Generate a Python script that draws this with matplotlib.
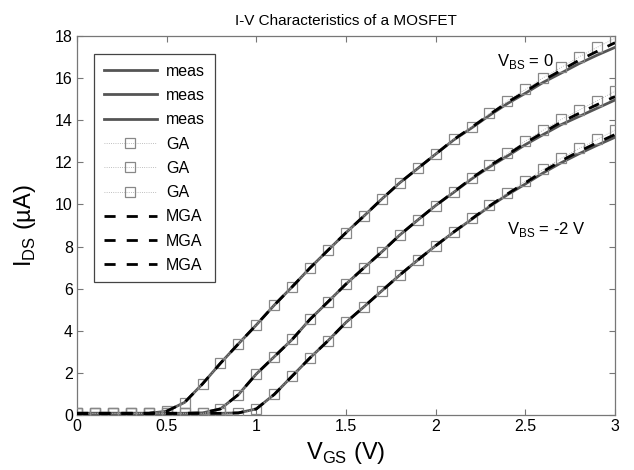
import matplotlib
matplotlib.use("Agg")
from matplotlib import pyplot as plt

plt.rcParams['font.family'] = ['Liberation Sans', 'DejaVu Sans']
plt.rcParams['mathtext.fontset'] = 'custom'
plt.rcParams['mathtext.rm'] = 'Liberation Sans'

"""
Data read from the picture
"""
vgs = [0.0, 0.1, 0.2, 0.3, 0.4, 0.5, 0.6, 0.7, 0.8, 0.9,
       1.0, 1.1, 1.2, 1.3, 1.4, 1.5, 1.6, 1.7, 1.8, 1.9,
       2.0, 2.1, 2.2, 2.3, 2.4, 2.5, 2.6, 2.7, 2.8, 2.9, 3.0]

# VBS = 0
meas_0 = [0.08, 0.08, 0.08, 0.08, 0.08, 0.18, 0.60, 1.48, 2.46, 3.38,
          4.28, 5.22, 6.09, 6.99, 7.83, 8.66, 9.45, 10.26, 11.03, 11.71,
          12.39, 13.06, 13.63, 14.23, 14.79, 15.28, 15.80, 16.24, 16.69, 17.09, 17.46]
ga_0 = [0.08, 0.08, 0.08, 0.08, 0.08, 0.18, 0.58, 1.48, 2.46, 3.38,
        4.28, 5.22, 6.09, 6.99, 7.83, 8.66, 9.45, 10.26, 11.03, 11.71,
        12.39, 13.09, 13.69, 14.32, 14.92, 15.46, 16.02, 16.51, 17.01, 17.46, 17.89]
mga_0 = [0.08, 0.08, 0.08, 0.08, 0.08, 0.18, 0.60, 1.48, 2.46, 3.38,
         4.28, 5.22, 6.09, 6.99, 7.83, 8.66, 9.45, 10.26, 11.03, 11.71,
         12.39, 13.08, 13.66, 14.27, 14.85, 15.36, 15.90, 16.37, 16.85, 17.27, 17.68]

# VBS = -1 V
meas_1 = [0.08, 0.08, 0.08, 0.08, 0.08, 0.08, 0.08, 0.10, 0.29, 0.97,
          1.95, 2.77, 3.59, 4.55, 5.38, 6.22, 6.99, 7.75, 8.55, 9.26,
          9.95, 10.57, 11.21, 11.78, 12.30, 12.84, 13.32, 13.79, 14.18, 14.57, 14.96]
ga_1 = [0.08, 0.08, 0.08, 0.08, 0.08, 0.08, 0.08, 0.08, 0.27, 0.95,
        1.95, 2.77, 3.59, 4.55, 5.38, 6.22, 6.99, 7.75, 8.55, 9.26,
        9.95, 10.60, 11.27, 11.87, 12.42, 13.01, 13.53, 14.04, 14.48, 14.92, 15.38]
mga_1 = [0.08, 0.08, 0.08, 0.08, 0.08, 0.08, 0.08, 0.10, 0.29, 0.97,
         1.95, 2.77, 3.59, 4.55, 5.38, 6.22, 6.99, 7.75, 8.55, 9.26,
         9.95, 10.59, 11.24, 11.83, 12.36, 12.92, 13.42, 13.91, 14.33, 14.74, 15.12]

# VBS = -2 V
meas_2 = [0.08, 0.08, 0.08, 0.08, 0.08, 0.08, 0.08, 0.08, 0.08, 0.10,
          0.29, 0.98, 1.85, 2.72, 3.53, 4.40, 5.14, 5.90, 6.65, 7.36,
          8.04, 8.68, 9.29, 9.90, 10.46, 10.97, 11.50, 11.98, 12.41, 12.81, 13.19]
ga_2 = [0.08, 0.08, 0.08, 0.08, 0.08, 0.08, 0.08, 0.08, 0.08, 0.08,
        0.27, 0.98, 1.85, 2.72, 3.53, 4.40, 5.14, 5.90, 6.65, 7.36,
        8.04, 8.70, 9.34, 9.97, 10.56, 11.11, 11.67, 12.19, 12.66, 13.09, 13.53]
mga_2 = [0.08, 0.08, 0.08, 0.08, 0.08, 0.08, 0.08, 0.08, 0.08, 0.10,
         0.29, 0.98, 1.85, 2.72, 3.53, 4.40, 5.14, 5.90, 6.65, 7.36,
         8.04, 8.69, 9.31, 9.93, 10.50, 11.03, 11.57, 12.07, 12.52, 12.93, 13.32]

meas = [meas_0, meas_1, meas_2]
ga = [ga_0, ga_1, ga_2]
mga = [mga_0, mga_1, mga_2]

"""
Plotting
"""
fig = plt.figure(figsize=(6.34, 4.70), dpi=100)
ax = fig.add_axes([0.1215, 0.117, 0.8485, 0.8064])

for y in meas:
    ax.plot(vgs, y, color='#555555', lw=2.0, label='meas', zorder=2)
for y in ga:
    ax.plot(vgs, y, color='#aaaaaa', lw=0.6, ls=':', marker='s', ms=6.5,
            mfc='none', mec='#888888', mew=0.9, label='GA', zorder=3)
for y in mga:
    ax.plot(vgs, y, color='black', lw=2.0, dashes=(4, 4), label='MGA', zorder=4)

ax.text(2.34, 16.8, r'V$_{\mathregular{BS}}$ = 0', fontsize=12, va='center')
ax.text(2.40, 8.8, r'V$_{\mathregular{BS}}$ = -2 V', fontsize=12, va='center')

ax.set_xlim(0, 3)
ax.set_ylim(0, 18)
ax.set_xticks([0, 0.5, 1, 1.5, 2, 2.5, 3])
ax.set_xticklabels(['0', '0.5', '1', '1.5', '2', '2.5', '3'])
ax.set_yticks(range(0, 19, 2))
ax.tick_params(direction='in', top=True, right=True, length=4, width=0.8,
               color='#777777', labelsize=11.5, pad=3)
for s in ax.spines.values():
    s.set_color('#777777')
    s.set_linewidth(0.9)

ax.set_xlabel(r'V$_{\mathregular{GS}}$ (V)', fontsize=17, labelpad=4)
ax.set_ylabel(r'I$_{\mathregular{DS}}$ (µA)', fontsize=17, labelpad=12)
ax.set_title('I-V Characteristics of a MOSFET', fontsize=11, pad=8)

leg = ax.legend(loc='upper left', bbox_to_anchor=(0.032, 0.952), fontsize=11.5,
                handlelength=3.3, labelspacing=0.58, borderaxespad=0,
                fancybox=False, framealpha=1, borderpad=0.6, handletextpad=0.6)
leg.get_frame().set_edgecolor('#444444')
leg.get_frame().set_linewidth(0.9)

plt.savefig('out.png', dpi=100)
